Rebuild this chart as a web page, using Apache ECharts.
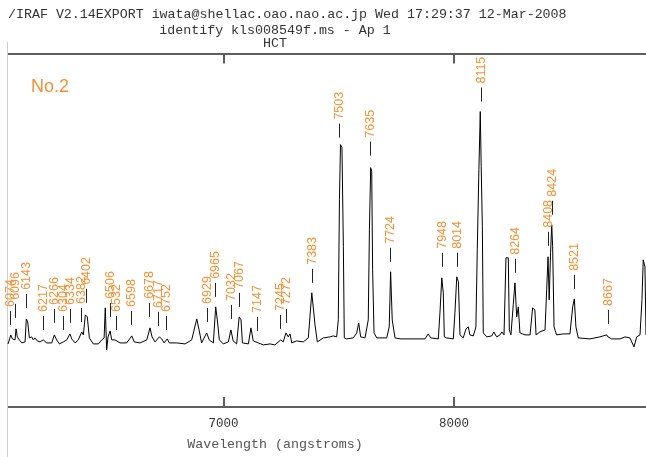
<!DOCTYPE html>
<html>
<head>
<meta charset="utf-8">
<script src="https://cdn.jsdelivr.net/npm/echarts@6/dist/echarts.min.js"></script>
<style>
html,body{margin:0;padding:0;background:#fff;}
#chart{width:646px;height:457px;}
</style>
</head>
<body>
<div id="chart"></div>
<script>
// Spectrum (wavelength in angstroms, relative counts)
const wavelengths = [6065,6077,6084,6095.5,6100,6105.5,6114,6125,6139,6144.5,6150.6,6157.6,6168,6175,6182,6192,6204,6218,6233,6255,6266,6276,6288,6305,6320,6334,6341.5,6356,6370,6385,6392,6400.5,6409,6418,6435,6457,6472,6482,6487,6493,6499,6508,6515,6529,6551,6580,6602,6613,6638,6667,6681,6690,6703,6721.5,6732,6742,6756,6765,6797,6833,6862,6884,6894,6905,6927,6938,6956,6966,6973,6982,6999,7021,7032,7042,7057,7068,7076,7082,7108,7119,7129,7151,7173,7202,7223,7248,7259,7271,7281,7288.5,7296,7317.5,7346,7368,7383,7390,7397,7407,7433,7462,7476,7491,7498,7503,7507.5,7514,7520,7524,7534,7563,7578,7586.5,7595,7614,7628,7633,7638.5,7643,7647,7653,7665,7708,7719,7725,7732,7744,7766,7874,7888,7899,7932,7939,7947,7953.5,7958,7968,7997,8004,8012,8019,8026,8040,8052,8062,8069,8084,8095,8101,8108,8114,8118,8123,8127,8142,8163.5,8173,8185,8199.5,8208,8217,8225.5,8235.5,8240,8247,8257,8264.5,8272,8279,8286,8308,8330,8341,8351,8356,8373,8395,8402,8408,8413,8419,8424,8428,8434,8445,8474,8503,8515,8522,8529,8539,8590,8633,8662,8668,8684,8720,8742,8763,8781,8792.5,8807,8815.5,8821,8828.5,8833];
const flux = [63,72,68,67,78,70,67,64,65,88,85,69,70,67,69,66,65,67,64,64,72,67,63,65,67,73,68,64,67,75,72,92,90,69,63,63,67,69,99,57,70,76,67,67,64,64,71,65,64,67,79,70,65,70,68,64,68,64,64,63,67,88,77,64,74,67,64,100,87,67,63,65,77,66,63,90,87,64,63,79,66,64,62,63,62,67,65,74,70,73,64,66,65,69,114,113,82,65,69,70,71,70,87,207,262,259,160,69,68,69,74,84,70,69,87,177,239,235,137,74,69,69,80,135,87,69,68,68,73,69,68,94,129,114,70,69,68,94,130,125,72,69,78,80,72,71,80,157,237,295,240,180,74,70,71,75,70,72,75,72,149,149,77,72,102,124,90,100,74,72,72,99,97,72,75,77,117,150,107,154,182,160,80,72,73,73,100,108,80,69,68,70,72,70,68,68,70,69,60,70,72,107,147,140,72];

// Line identifications
const identWl = [6074,6096,6143,6217,6266,6304,6334,6382,6402,6506,6532,6598,6678,6717,6752,6929,6965,7032,7067,7147,7245,7272,7383,7503,7635,7724,7948,8014,8115,8264,8408,8424,8521,8667];
const identLabels = ['6074','6096','6143','6217','6266','6304','6334','6382','6402','6506','6532','6598','6678','6717','6752','6929','6965','7032','7067','7147','7245','7272','7383','7503','7635','7724','7948','8014','8115','8264','8408','8424','8521','8667'];
const identMarkHeight = [82,89,99,77,84,77,84,85,104,90,77,82,90,81,77,85,110,88,100,76,78,84,124,269,251,145,140,140,305,134,161,192,118,83];

const tickValues = [7000, 8000];
const xMin = 6065, xMax = 8833;

const headerLine1 = '/IRAF V2.14EXPORT iwata@shellac.oao.nao.ac.jp Wed 17:29:37 12-Mar-2008';
const headerLine2 = 'identify kls008549f.ms - Ap 1';
const headerLine3 = 'HCT';
const xTitle = 'Wavelength (angstroms)';
const panelLabel = 'No.2';

const ORANGE = '#f39033';
const AXIS = '#5e5e5e';
const MONO = '"Liberation Mono", "DejaVu Sans Mono", monospace';
const SANS = '"Liberation Sans", Arial, sans-serif';

const chart = echarts.init(document.getElementById('chart'), null, {renderer: 'canvas'});

const specData = wavelengths.map((w, i) => [w, flux[i]]);
const identData = identWl.map((w, i) => [w, identMarkHeight[i], identLabels[i]]);

const option = {
  animation: false,
  backgroundColor: '#ffffff',
  grid: {left: 8, right: 0, top: 53.5, bottom: 50, containLabel: false},
  xAxis: [
    {
      type: 'value', min: xMin, max: xMax, position: 'bottom',
      axisLine: {show: true, lineStyle: {color: AXIS, width: 2}},
      axisTick: {show: true, inside: true, length: 10, customValues: tickValues, lineStyle: {color: AXIS, width: 2}},
      axisLabel: {show: true, customValues: tickValues, margin: 10, color: '#333', fontFamily: MONO, fontSize: 12.5,
        formatter: function (v) { return String(v); }},
      splitLine: {show: false},
      name: xTitle, nameLocation: 'middle', nameGap: 31,
      nameTextStyle: {color: '#555', fontFamily: MONO, fontSize: 13.3, padding: [0, 104, 0, 0]}
    },
    {
      type: 'value', min: xMin, max: xMax, position: 'top',
      axisLine: {show: true, lineStyle: {color: AXIS, width: 2}},
      axisTick: {show: true, inside: true, length: 10, customValues: tickValues, lineStyle: {color: AXIS, width: 2}},
      axisLabel: {show: false},
      splitLine: {show: false}
    }
  ],
  yAxis: {type: 'value', min: 0, max: 353, show: false},
  series: [
    {
      type: 'line', xAxisIndex: 0, data: specData, showSymbol: false, symbol: 'none',
      lineStyle: {color: '#000', width: 1}, z: 3, silent: true
    },
    {
      type: 'custom', xAxisIndex: 0, data: identData, z: 4, silent: true,
      renderItem: function (params, api) {
        const p = api.coord([api.value(0), api.value(1)]);
        const x = Math.round(p[0]) + 0.5;
        const y = p[1];
        return {
          type: 'group',
          children: [
            {type: 'line', shape: {x1: x, y1: y, x2: x, y2: y - 14}, style: {stroke: '#222', lineWidth: 1}},
            {type: 'text', x: x, y: y - 18, rotation: Math.PI / 2,
              style: {text: identLabels[params.dataIndex], fill: ORANGE, font: '12.5px ' + SANS, align: 'left', verticalAlign: 'middle'}}
          ]
        };
      }
    }
  ],
  graphic: [
    {type: 'line', shape: {x1: 7.5, y1: 42, x2: 7.5, y2: 457}, style: {stroke: '#cfcfcf', lineWidth: 1}, z: 1},
    {type: 'text', x: 8, y: 14, style: {text: headerLine1, fill: '#333', font: '13.3px ' + MONO, align: 'left', verticalAlign: 'middle'}},
    {type: 'text', x: 275, y: 30, style: {text: headerLine2, fill: '#333', font: '13.3px ' + MONO, align: 'center', verticalAlign: 'middle'}},
    {type: 'text', x: 275, y: 43.5, style: {text: headerLine3, fill: '#333', font: '13.3px ' + MONO, align: 'center', verticalAlign: 'middle'}},
    {type: 'text', x: 31, y: 87, style: {text: panelLabel, fill: ORANGE, font: '18px ' + SANS, align: 'left', verticalAlign: 'middle'}}
  ]
};
chart.setOption(option);
</script>
</body>
</html>
